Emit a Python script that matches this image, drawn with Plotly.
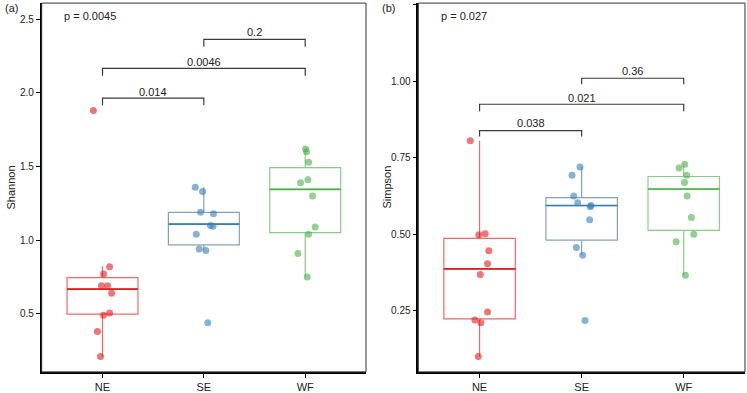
import plotly.graph_objects as go
from plotly.subplots import make_subplots

groups = ["NE", "SE", "WF"]
positions = [1, 2, 3]
colors = ["#E41A1C", "#377EB8", "#4DAF4A"]
box_line_colors = ["rgba(228,26,28,0.65)", "rgba(90,130,170,0.75)", "rgba(77,175,74,0.65)"]
point_colors = ["rgba(228,26,28,0.6)", "rgba(55,126,184,0.6)", "rgba(77,175,74,0.6)"]

# ---- Shannon (panel a) ----
shannon_values = {
    "NE": [1.88, 0.82, 0.77, 0.69, 0.69, 0.64, 0.505, 0.49, 0.38, 0.21],
    "SE": [1.36, 1.33, 1.19, 1.18, 1.10, 1.095, 1.04, 0.94, 0.93, 0.44],
    "WF": [1.62, 1.60, 1.53, 1.41, 1.39, 1.30, 1.09, 1.04, 0.91, 0.75],
}
shannon_jitter = {
    "NE": [-0.09, 0.07, 0.01, -0.01, 0.05, 0.09, 0.07, 0.01, -0.05, -0.02],
    "SE": [-0.085, -0.013, -0.033, 0.095, 0.065, 0.09, -0.075, -0.046, 0.02, 0.039],
    "WF": [0.003, 0.013, 0.033, 0.026, -0.046, 0.072, 0.098, 0.033, -0.072, 0.02],
}
shannon_q1 = [0.498, 0.968, 1.052]
shannon_median = [0.668, 1.109, 1.345]
shannon_q3 = [0.746, 1.189, 1.493]
shannon_low = [0.21, 0.93, 0.75]
shannon_high = [0.824, 1.36, 1.62]
shannon_pairs = [(1, 2), (1, 3), (2, 3)]
shannon_bracket_top = [1.965, 2.167, 2.364]
shannon_bracket_tip = [1.916, 2.117, 2.314]
shannon_bracket_label_y = [2.006, 2.211, 2.411]
shannon_labels = ["0.014", "0.0046", "0.2"]
shannon_global = "p = 0.0045"

# ---- Simpson (panel b) ----
simpson_values = {
    "NE": [0.806, 0.499, 0.502, 0.446, 0.404, 0.369, 0.246, 0.220, 0.211, 0.101],
    "SE": [0.720, 0.693, 0.625, 0.603, 0.594, 0.590, 0.548, 0.457, 0.432, 0.218],
    "WF": [0.729, 0.717, 0.693, 0.669, 0.625, 0.555, 0.500, 0.476, 0.366],
}
simpson_jitter = {
    "NE": [-0.091, -0.007, 0.055, 0.091, 0.078, 0.007, 0.078, -0.046, 0.013, -0.013],
    "SE": [-0.016, -0.094, -0.078, -0.039, 0.091, 0.085, 0.078, -0.052, 0.01, 0.033],
    "WF": [0.01, -0.046, 0.029, 0.007, 0.033, 0.075, 0.098, -0.075, 0.016],
}
simpson_q1 = [0.224, 0.481, 0.513]
simpson_median = [0.387, 0.594, 0.648]
simpson_q3 = [0.487, 0.620, 0.689]
simpson_low = [0.101, 0.432, 0.366]
simpson_high = [0.806, 0.720, 0.729]
simpson_pairs = [(1, 2), (1, 3), (2, 3)]
simpson_bracket_top = [0.839, 0.925, 1.010]
simpson_bracket_tip = [0.820, 0.902, 0.990]
simpson_bracket_label_y = [0.863, 0.947, 1.033]
simpson_labels = ["0.038", "0.021", "0.36"]
simpson_global = "p = 0.027"

FONT = "Liberation Sans, Arial, sans-serif"
W, H = 747, 393

fig = make_subplots(rows=1, cols=2)


def add_panel(col, values, jitter, q1, med, q3, low, high, pairs, btop, btip, blab_y, blabels, ptext, ptext_y):
    xref = "x" if col == 1 else "x2"
    yref = "y" if col == 1 else "y2"
    for i, g in enumerate(groups):
        pos = positions[i]
        fig.add_trace(go.Box(
            x=[pos], q1=[q1[i]], median=[med[i]], q3=[q3[i]],
            lowerfence=[low[i]], upperfence=[high[i]],
            width=0.7, boxpoints=False, whiskerwidth=0,
            line=dict(color=box_line_colors[i], width=1.2),
            fillcolor="rgba(0,0,0,0)", showlegend=False, hoverinfo="skip",
        ), row=1, col=col)
        fig.add_trace(go.Scatter(
            x=[pos - 0.35, pos + 0.35], y=[med[i], med[i]], mode="lines",
            line=dict(color=colors[i], width=1.6), showlegend=False, hoverinfo="skip",
        ), row=1, col=col)
        fig.add_trace(go.Scatter(
            x=[pos + j for j in jitter[g]], y=values[g], mode="markers",
            marker=dict(color=point_colors[i], size=7, line=dict(width=0)),
            showlegend=False, hoverinfo="skip",
        ), row=1, col=col)
    for k, (a, b) in enumerate(pairs):
        fig.add_trace(go.Scatter(
            x=[a, a, b, b], y=[btip[k], btop[k], btop[k], btip[k]], mode="lines",
            line=dict(color="#3a3a3a", width=1.2), showlegend=False, hoverinfo="skip",
        ), row=1, col=col)
        fig.add_annotation(x=(a + b) / 2, y=blab_y[k], xref=xref, yref=yref, text=blabels[k],
                           showarrow=False, font=dict(size=11, color="#222", family=FONT))
    fig.add_annotation(x=0.6, y=ptext_y, xref=xref, yref=yref, text=ptext, xanchor="left",
                       showarrow=False, font=dict(size=11, color="#222", family=FONT))


add_panel(1, shannon_values, shannon_jitter, shannon_q1, shannon_median, shannon_q3,
          shannon_low, shannon_high, shannon_pairs, shannon_bracket_top, shannon_bracket_tip,
          shannon_bracket_label_y, shannon_labels, shannon_global, 2.52)
add_panel(2, simpson_values, simpson_jitter, simpson_q1, simpson_median, simpson_q3,
          simpson_low, simpson_high, simpson_pairs, simpson_bracket_top, simpson_bracket_tip,
          simpson_bracket_label_y, simpson_labels, simpson_global, 1.213)

xaxis_common = dict(
    range=[0.4, 3.6], tickmode="array", tickvals=positions, ticktext=groups,
    showline=True, linecolor="black", linewidth=1.6, ticks="outside", ticklen=4,
    tickcolor="black", showgrid=False, zeroline=False,
    tickfont=dict(size=11, color="#222", family=FONT),
)
yaxis_common = dict(
    showline=True, linecolor="black", linewidth=1.6, ticks="outside", ticklen=4,
    tickcolor="black", showgrid=False, zeroline=False,
    tickfont=dict(size=10, color="#222", family=FONT),
)

fig.update_layout(
    width=W, height=H, margin=dict(l=0, r=0, t=0, b=0),
    plot_bgcolor="white", paper_bgcolor="white",
    font=dict(family=FONT),
    xaxis=dict(domain=[0.0558, 0.4900], **xaxis_common),
    xaxis2=dict(domain=[0.5600, 0.9973], **xaxis_common),
    yaxis=dict(domain=[0.044, 0.992], range=[0.106, 2.61],
               tickvals=[0.5, 1.0, 1.5, 2.0, 2.5], ticktext=["0.5", "1.0", "1.5", "2.0", "2.5"],
               **yaxis_common),
    yaxis2=dict(domain=[0.044, 0.992], range=[0.0505, 1.2555],
                tickvals=[0.25, 0.5, 0.75, 1.0, 1.25], ticktext=["0.25", "0.50", "0.75", "1.00", "1.25"],
                **yaxis_common),
)

for xr, yr in [("x", "y"), ("x2", "y2")]:
    fig.add_shape(type="rect", xref=f"{xr} domain", yref=f"{yr} domain",
                  x0=0, x1=1, y0=0, y1=1, line=dict(color="#333", width=1))


def px_x(px):
    return px / W


def px_y(py):
    return 1 - py / H


label_font = dict(size=11, color="#222", family=FONT)
fig.add_annotation(x=px_x(3), y=px_y(8), xref="paper", yref="paper", text="(a)", showarrow=False,
                   xanchor="left", yanchor="middle", font=label_font)
fig.add_annotation(x=px_x(380), y=px_y(8), xref="paper", yref="paper", text="(b)", showarrow=False,
                   xanchor="left", yanchor="middle", font=label_font)
fig.add_annotation(x=px_x(11), y=0.518, xref="paper", yref="paper", text="Shannon",
                   textangle=-90, showarrow=False, xanchor="center", yanchor="middle", font=label_font)
fig.add_annotation(x=px_x(387), y=0.518, xref="paper", yref="paper", text="Simpson",
                   textangle=-90, showarrow=False, xanchor="center", yanchor="middle", font=label_font)

fig.write_html("out.html", config={"displayModeBar": False},
               post_script="document.body.style.margin='0';document.body.style.overflow='hidden';")
